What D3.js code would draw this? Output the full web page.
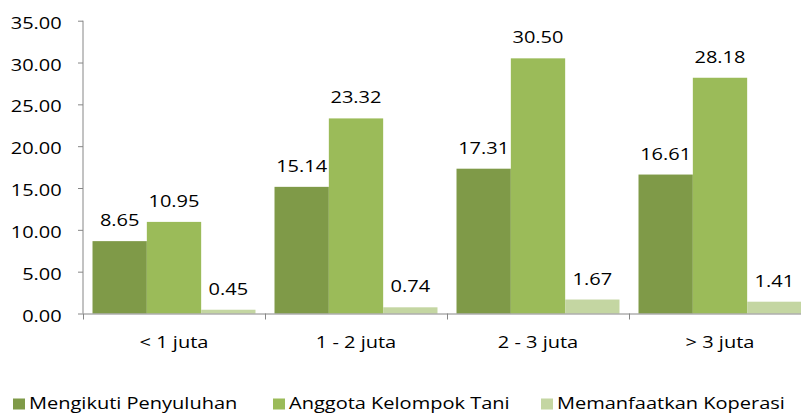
<!DOCTYPE html>
<html>
<head>
<meta charset="utf-8">
<script src="https://cdn.jsdelivr.net/npm/d3@7"></script>
<style>
  body { margin: 0; background: #fff; }
  text { font-family: "Open Sans", sans-serif; font-size: 16px; fill: #000; }
</style>
</head>
<body>
<svg width="801" height="413"></svg>
<script>
var categories = ["< 1 juta", "1 - 2 juta", "2 - 3 juta", "> 3 juta"];
var seriesNames = ["Mengikuti Penyuluhan", "Anggota Kelompok Tani", "Memanfaatkan Koperasi"];
var penyuluhan = [8.65, 15.14, 17.31, 16.61];
var kelompokTani = [10.95, 23.32, 30.50, 28.18];
var koperasi = [0.45, 0.74, 1.67, 1.41];
var seriesColors = ["#7f9a48", "#9bbb59", "#c4d6a2"];
var yTicks = [0, 5, 10, 15, 20, 25, 30, 35];

var series = [penyuluhan, kelompokTani, koperasi];
var sx = 1.25; // text is drawn a bit wider than the font

var svg = d3.select("svg"),
    plotLeft = 83, plotRight = 811, plotTop = 20.7, plotBottom = 313.5;

var x0 = d3.scaleBand().domain(categories).range([plotLeft, plotRight]).padding(0);
var x1 = d3.scaleBand().domain(seriesNames).range([0, x0.bandwidth()])
           .paddingInner(0).paddingOuter(0.175);
var y = d3.scaleLinear().domain([0, 35]).range([plotBottom, plotTop]);
var xb = d3.scaleLinear().domain([0, categories.length]).range([plotLeft, plotRight]);

function place(x, yy) { return "translate(" + x + "," + yy + ") scale(" + sx + ",1)"; }

// bars
var groups = svg.append("g").selectAll("g")
    .data(categories)
    .enter().append("g")
    .attr("transform", function(d) { return "translate(" + x0(d) + ",0)"; });

function rows(d, i) {
    return seriesNames.map(function(s, k) { return {s: s, k: k, v: series[k][i]}; });
}

groups.selectAll("rect")
    .data(rows)
    .enter().append("rect")
    .attr("x", function(d) { return x1(d.s); })
    .attr("width", x1.bandwidth())
    .attr("y", function(d) { return y(d.v); })
    .attr("height", function(d) { return plotBottom - y(d.v); })
    .attr("fill", function(d) { return seriesColors[d.k]; });

groups.selectAll("text")
    .data(rows)
    .enter().append("text")
    .attr("text-anchor", "middle")
    .attr("transform", function(d) { return place(x1(d.s) + x1.bandwidth() / 2, y(d.v) - 15); })
    .text(function(d) { return d3.format(".2f")(d.v); });

// y axis
var yAxis = svg.append("g")
    .attr("transform", "translate(" + plotLeft + ",0)")
    .call(d3.axisLeft(y).tickValues(yTicks).tickFormat(d3.format(".2f")).tickSize(5).tickSizeOuter(0));
yAxis.selectAll("text")
    .attr("x", null).attr("dy", null)
    .attr("transform", place(-21.3, 7.5))
    .attr("fill", "#000");

// x axis
var xAxis = svg.append("g")
    .attr("transform", "translate(0," + plotBottom + ")")
    .call(d3.axisBottom(xb).tickValues(d3.range(categories.length + 1)).tickFormat("").tickSize(6).tickSizeOuter(0));

svg.selectAll(".domain, .tick line").attr("stroke", "#868686");
yAxis.select(".domain").attr("d", "M0," + plotTop + "V" + plotBottom);

svg.append("g").selectAll("text")
    .data(categories)
    .enter().append("text")
    .attr("text-anchor", "middle")
    .attr("transform", function(d) { return place(x0(d) + x0.bandwidth() / 2, 348.3); })
    .text(function(d) { return d; });

// legend
var legendX = [13, 273, 541];
var legend = svg.append("g").selectAll("g")
    .data(seriesNames)
    .enter().append("g")
    .attr("transform", function(d, i) { return "translate(" + legendX[i] + ",398.5)"; });
legend.append("rect")
    .attr("width", 12).attr("height", 11)
    .attr("fill", function(d, i) { return seriesColors[i]; });
legend.append("text")
    .attr("transform", place(16, 10.8))
    .text(function(d) { return d; });
</script>
</body>
</html>
